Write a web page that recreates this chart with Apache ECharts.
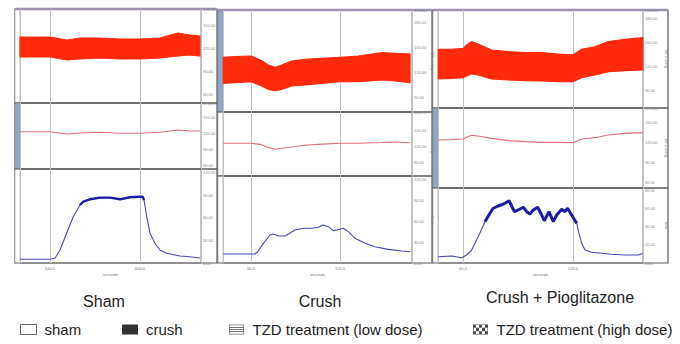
<!DOCTYPE html>
<html>
<head>
<meta charset="utf-8">
<script src="https://cdn.jsdelivr.net/npm/echarts@6/dist/echarts.min.js"></script>
<style>
html, body { margin: 0; padding: 0; background: #fff; }
#chart { width: 680px; height: 344px; }
</style>
</head>
<body>
<div id="chart"></div>
<script>
// Sham recording (seconds)
var shamBpTime = [520, 530, 540, 551.3, 560, 573.3, 586.7, 600, 613.3, 625.3, 633.3, 640];
var shamBpHigh = [134.4, 134.4, 134.4, 130.5, 133.1, 133.1, 131.8, 131.8, 133.1, 139.6, 137.0, 135.7];
var shamBpLow  = [108.3, 108.3, 108.3, 104.4, 105.7, 107.0, 105.7, 105.7, 107.0, 109.6, 110.9, 109.6];
var shamBpMean = [122.4, 122.4, 122.4, 118.1, 120.0, 121.3, 119.4, 119.4, 121.3, 125.6, 123.8, 123.8];
var shamFlowTime = [520, 540, 543.3, 546.7, 551.1, 555.5, 560, 562.2, 566.7, 573.3, 580, 586.7,
                    593.3, 600, 601.8, 602.7, 604.5, 606.7, 610, 613.3, 617.8, 626.7, 633.3, 640];
var shamFlow = [4.9, 4.9, 6.3, 17.3, 39.6, 61.7, 77.3, 81.7, 84.9, 87.1, 87.1, 84.9,
                87.6, 88.4, 88.4, 84.0, 61.7, 39.6, 26.3, 17.3, 12.9, 9.3, 8.4, 6.7];

// Crush recording
var crushBpTime = [41.3, 49.2, 60, 67.2, 71.7, 76.2, 80.7, 87.4, 96.4, 107.7, 120.2, 132.3, 148.1, 157.1, 167.2];
var crushBpHigh = [137.6, 138.4, 139.2, 133.6, 128.4, 125.6, 128.4, 133.2, 135.2, 136.4, 137.6, 139.2, 143.2, 142.4, 141.6];
var crushBpLow  = [106.4, 107.2, 108.4, 103.2, 99.2, 97.6, 99.2, 103.2, 104.4, 106.4, 108.4, 108.4, 110.4, 109.2, 107.2];
var crushBpMean = [125.1, 125.1, 125.1, 122.5, 117.0, 113.8, 115.7, 118.0, 121.5, 123.5, 125.1, 125.1, 126.5, 127.5, 126.2];
var crushFlowTime = [41.3, 62.7, 64.5, 68.3, 72.8, 75.0, 78.4, 82.9, 89.7, 95.3, 100.9, 105.4,
                     108.7, 112.1, 115.5, 117.8, 122.2, 125.6, 130.1, 136.8, 143.6, 152.5, 161.6, 167.2];
var crushFlow = [12.9, 12.9, 16.1, 28.1, 40.0, 41.4, 38.6, 38.6, 47.1, 49.6, 49.6, 51.0,
                 54.3, 51.9, 46.1, 47.1, 49.6, 44.8, 35.3, 28.1, 23.3, 19.5, 17.1, 16.1];

// Crush + Pioglitazone recording
var pioBpTime = [46.5, 53.8, 60.2, 62.0, 64.7, 68.3, 75.6, 84.7, 93.8, 102.9, 111.9, 119.8, 124.7, 131.9, 139.2, 148.3, 158.0];
var pioBpHigh = [140.9, 140.9, 142.1, 146.3, 150.4, 147.5, 140.0, 137.9, 136.6, 136.6, 135.0, 133.8, 140.9, 144.1, 150.4, 153.4, 155.4];
var pioBpLow  = [103.8, 104.6, 105.4, 107.5, 110.0, 108.8, 103.8, 102.5, 101.6, 101.3, 100.4, 100.4, 105.4, 108.8, 112.9, 114.1, 115.0];
var pioBpMean = [123.0, 123.5, 124.5, 127.0, 130.0, 129.0, 125.5, 122.0, 120.5, 119.5, 119.5, 119.0, 124.5, 126.5, 130.5, 133.0, 134.0];
var pioFlowTime = [46.5, 53.8, 59.3, 62.0, 64.7, 68.3, 72.0, 74.7, 76.5, 79.2, 82.9, 85.1, 86.5,
                   88.0, 90.1, 92.9, 94.7, 96.5, 98.3, 100.7, 102.9, 104.3, 106.9, 109.2, 111.1,
                   113.8, 115.6, 117.0, 119.2, 122.0, 123.2, 124.7, 126.5, 130.1, 135.6, 141.0, 148.3, 155.6, 158.0];
var pioFlow = [7.0, 7.8, 5.9, 8.9, 14.4, 29.2, 45.9, 55.2, 60.8, 63.3, 66.3, 69.2, 63.3,
               57.0, 58.9, 61.9, 57.0, 54.4, 58.9, 61.9, 53.3, 47.0, 57.0, 45.9, 53.3,
               59.7, 57.0, 60.8, 53.3, 44.1, 33.0, 21.9, 14.4, 11.9, 10.8, 9.7, 8.9, 8.9, 10.8];

var groupNames = ['Sham', 'Crush', 'Crush + Pioglitazone'];
var legendNames = ['sham', 'crush', 'TZD treatment (low dose)', 'TZD treatment (high dose)'];

// layout of the three recordings
var panels = [
    { title: groupNames[0], titleX: 104, titleY: 301, gutter: 15, left: 20, width: 181, outer: 217,
      tops: [9, 103, 169], heights: [94, 66, 94], xRange: [520, 640.7],
      yRanges: [[48.3, 170.9, 30], [52.5, 176.25, 30], [0, 125.3, 30]], picked: 1, thick: 75,
      bpTime: shamBpTime, high: shamBpHigh, low: shamBpLow, mean: shamBpMean, flowTime: shamFlowTime, flow: shamFlow },
    { title: groupNames[1], titleX: 320, titleY: 301, gutter: 218, left: 223, width: 189, outer: 432,
      tops: [10, 112, 176], heights: [102, 64, 87], xRange: [41.1, 168.5],
      yRanges: [[72, 194.4, 30], [63.75, 183.75, 30], [0, 124.3, 30]], picked: 0, thick: 999,
      bpTime: crushBpTime, high: crushBpHigh, low: crushBpLow, mean: crushBpMean, flowTime: crushFlowTime, flow: crushFlow },
    { title: groupNames[2], titleX: 560, titleY: 297, gutter: 433, left: 438, width: 205, outer: 668,
      tops: [10, 108, 188], heights: [98, 80, 75], xRange: [46.4, 158.1],
      yRanges: [[67.5, 190, 30], [51, 171, 30], [0, 83.3, 20]], picked: 1, thick: 40,
      bpTime: pioBpTime, high: pioBpHigh, low: pioBpLow, mean: pioBpMean, flowTime: pioFlowTime, flow: pioFlow }
];

function pts(t, v) {
    return t.map(function (x, i) { return [x, v[i]]; });
}

// pressure envelope: one polygon between the high and low traces
function bandItem(params, api) {
    if (params.dataIndex !== 0) return null;
    var p = panels[params.seriesIndex === undefined ? 0 : api.value(3)];
    var poly = [];
    p.bpTime.forEach(function (t, i) { poly.push(api.coord([t, p.high[i]])); });
    for (var j = p.bpTime.length - 1; j >= 0; j--) poly.push(api.coord([p.bpTime[j], p.low[j]]));
    return { type: 'polygon', shape: { points: poly },
             style: { fill: '#ff2a0a', stroke: '#ff2a0a', lineWidth: 1.2 } };
}

function stripesPath() {
    var p = 'M0,0H15V10H0Z M0.8,0.8V9.2H14.2V0.8Z';
    [2.6, 4.6, 6.6].forEach(function (y) {
        p += ' M0.8,' + y + 'H14.2V' + (y + 0.9) + 'H0.8Z';
    });
    return 'path://' + p;
}

function checkerPath() {
    var p = 'M0,0H15V10H0Z M0.6,0.6V9.4H14.4V0.6Z';
    for (var i = 0; i < 5; i++) {
        for (var j = 0; j < 3; j++) {
            if ((i + j) % 2 === 0) {
                var x = i * 3, y = j * 3.333;
                p += ' M' + x + ',' + y + 'H' + (x + 3) + 'V' + (y + 3.333) + 'H' + x + 'Z';
            }
        }
    }
    return 'path://' + p;
}

var grids = [], xAxes = [], yAxes = [], series = [], graphics = [];

panels.forEach(function (p, pi) {
    for (var r = 0; r < 3; r++) {
        var g = pi * 3 + r;
        grids.push({ left: p.left, top: p.tops[r], width: p.width, height: p.heights[r],
                     show: true, borderColor: '#8c8c8c', borderWidth: 1 });
        xAxes.push({
            type: 'value', gridIndex: g, min: p.xRange[0], max: p.xRange[1],
            minInterval: 60, maxInterval: 60,
            axisLine: { show: false }, axisTick: { show: false },
            axisLabel: { show: r === 2, fontSize: 4, color: '#777', margin: 3,
                         showMinLabel: false, showMaxLabel: false,
                         formatter: function (v) { return v.toFixed(1); } },
            splitLine: { show: true, lineStyle: { color: '#c2c2c2', width: 1 } },
            name: r === 2 ? 'seconds' : '', nameLocation: 'middle', nameGap: 9,
            nameTextStyle: { fontSize: 4, color: '#777' }
        });
        var yr = p.yRanges[r];
        yAxes.push({
            type: 'value', gridIndex: g, position: 'right', min: yr[0], max: yr[1],
            minInterval: yr[2], maxInterval: yr[2],
            axisLine: { show: false }, axisTick: { show: false }, splitLine: { show: false },
            axisLabel: { fontSize: 4, color: '#888', margin: 2,
                         showMinLabel: r === 2, showMaxLabel: r !== 2,
                         formatter: function (v) { return v.toFixed(2); } },
            name: pi === 0 ? '' : (r === 2 ? 'flow' : 'BP mmHg'),
            nameLocation: 'middle', nameRotate: -90, nameGap: pi === 1 ? 17 : 21,
            nameTextStyle: { fontSize: 4, color: '#888' }
        });
        // strip frame and channel gutter
        graphics.push({ type: 'rect', shape: { x: p.gutter, y: p.tops[r], width: p.outer - p.gutter, height: p.heights[r] },
                        style: { fill: 'none', stroke: '#5a5a5a', lineWidth: 1.2 }, silent: true });
        graphics.push({ type: 'rect', shape: { x: p.gutter, y: p.tops[r] + 0.6, width: p.left - p.gutter, height: p.heights[r] - 1.2 },
                        style: { fill: r === p.picked ? '#8fa7c9' : '#fff', stroke: '#999', lineWidth: 0.6 }, silent: true });
    }
    graphics.push({ type: 'line', shape: { x1: p.gutter, y1: p.tops[0], x2: p.outer, y2: p.tops[0] },
                    style: { stroke: '#9d90b0', lineWidth: 2.5 }, silent: true });
    graphics.push({ type: 'text', x: p.titleX, y: p.titleY, silent: true,
                    style: { text: p.title, font: '16px "Liberation Sans", Arial, sans-serif', fill: '#222',
                             textAlign: 'center', textVerticalAlign: 'middle', align: 'center', verticalAlign: 'middle' } });

    var g0 = pi * 3;
    series.push({ type: 'custom', xAxisIndex: g0, yAxisIndex: g0, renderItem: bandItem, silent: true,
                  data: p.bpTime.map(function (t, i) { return [t, p.high[i], p.low[i], pi]; }),
                  encode: { x: 0, y: [1, 2] } });
    series.push({ type: 'line', xAxisIndex: g0 + 1, yAxisIndex: g0 + 1, symbol: 'none',
                  lineStyle: { width: 1.1, color: '#e2707c' }, data: pts(p.bpTime, p.mean), silent: true });
    series.push({ type: 'line', xAxisIndex: g0 + 2, yAxisIndex: g0 + 2, symbol: 'none',
                  lineStyle: { width: 1.1, color: '#4646bc' }, data: pts(p.flowTime, p.flow), silent: true });
    var thr = p.thick;
    series.push({ type: 'line', xAxisIndex: g0 + 2, yAxisIndex: g0 + 2, symbol: 'none',
                  lineStyle: { width: pi === 2 ? 3 : 2.4, color: '#1c1ca6' },
                  data: p.flowTime.map(function (t, i) { return [t, p.flow[i] > thr ? p.flow[i] : '-']; }),
                  silent: true });
});

// legend entries
var legendStyle = [
    { icon: 'rect', itemStyle: { color: '#fff', borderColor: '#444', borderWidth: 1 } },
    { icon: 'rect', itemStyle: { color: '#000' } },
    { icon: stripesPath(), itemStyle: { color: '#555' } },
    { icon: checkerPath(), itemStyle: { color: '#222' } }
];
var legendLeft = [15, 117, 224, 468];
var legends = legendNames.map(function (n, i) {
    series.push({ type: 'scatter', name: n, data: [], itemStyle: legendStyle[i].itemStyle });
    return {
        left: legendLeft[i], top: 317, itemWidth: 16, itemHeight: 10, selectedMode: false,
        textStyle: { fontSize: 15, color: '#222', padding: [0, 0, 0, 3] },
        data: [{ name: n, icon: legendStyle[i].icon, itemStyle: legendStyle[i].itemStyle }]
    };
});

var chart = echarts.init(document.getElementById('chart'), null, { renderer: 'svg' });
chart.setOption({
    animation: false,
    backgroundColor: '#fff',
    textStyle: { fontFamily: '"Liberation Sans", Arial, sans-serif' },
    grid: grids,
    xAxis: xAxes,
    yAxis: yAxes,
    legend: legends,
    graphic: graphics,
    series: series
});
</script>
</body>
</html>
